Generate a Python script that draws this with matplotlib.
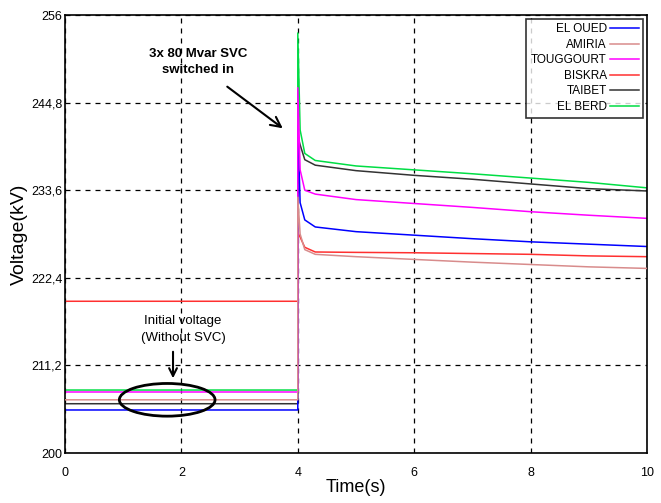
import matplotlib
matplotlib.use("Agg")
import matplotlib.pyplot as plt
from matplotlib.patches import Ellipse

# ---- data ----
time_s = [0, 4, 4, 4.04, 4.12, 4.3, 5, 6, 7, 8, 9, 10]
el_oued   = [205.5, 205.5, 241.9, 232.0, 229.8, 228.9, 228.3, 227.85, 227.4, 227.0, 226.7, 226.4]
amiria    = [206.8, 206.8, 232.7, 228.0, 226.0, 225.4, 225.1, 224.75, 224.4, 224.1, 223.8, 223.6]
touggourt = [207.8, 207.8, 246.7, 236.2, 233.6, 233.1, 232.4, 231.9, 231.4, 230.85, 230.4, 230.0]
biskra    = [219.4, 219.4, 228.2, 227.6, 226.3, 225.7, 225.65, 225.6, 225.5, 225.4, 225.2, 225.1]
taibet    = [206.3, 206.3, 240.5, 239.4, 237.5, 236.8, 236.1, 235.5, 235.0, 234.4, 233.8, 233.5]
el_berd   = [208.05, 208.05, 253.7, 241.3, 238.3, 237.4, 236.7, 236.2, 235.7, 235.15, 234.6, 233.9]

series_names = ["EL OUED", "AMIRIA", "TOUGGOURT", "BISKRA", "TAIBET", "EL BERD"]
series_vals = [el_oued, amiria, touggourt, biskra, taibet, el_berd]
colors = ["#0000ff", "#d88c8c", "#ff00ff", "#ff3030", "#333333", "#00dd44"]
zorders = [2.2, 2.6, 2.3, 2.1, 2.0, 2.05]

yticks = [200, 211.2, 222.4, 233.6, 244.8, 256]
ytick_labels = ["200", "211,2", "222,4", "233,6", "244,8", "256"]
xticks = [0, 2, 4, 6, 8, 10]
xtick_labels = ["0", "2", "4", "6", "8", "10"]

FONT = "Liberation Sans"

fig = plt.figure(figsize=(6.61, 5.03), dpi=100)
ax = fig.add_axes([65/661, 1-453/503, (647-65)/661, (453-15)/503])

for name, vals, c, z in zip(series_names, series_vals, colors, zorders):
    ax.plot(time_s, vals, color=c, lw=1.1, label=name, zorder=z)

ax.set_xlim(0, 10)
ax.set_ylim(200, 256)
ax.set_xticks(xticks)
ax.set_xticklabels(xtick_labels, fontfamily=FONT, fontsize=9)
ax.set_yticks(yticks)
ax.set_yticklabels(ytick_labels, fontfamily=FONT, fontsize=9)
ax.tick_params(axis="x", length=0, pad=10)
ax.tick_params(axis="y", length=0, pad=2)
ax.grid(True, color="black", linestyle=(0, (4, 4)), lw=0.9)
for s in ax.spines.values():
    s.set_linewidth(1.2)

ax.set_xlabel("Time(s)", fontsize=13, fontfamily=FONT, labelpad=0)
ax.set_ylabel("Voltage(kV)", fontsize=14, fontfamily=FONT, labelpad=2)

leg = ax.legend(loc="upper right", markerfirst=False, frameon=True,
                fancybox=False, handlelength=2.4, handletextpad=0.3,
                labelspacing=0.3, borderpad=0.4, borderaxespad=0.3,
                prop={"family": FONT, "size": 8.5})
leg.get_frame().set_edgecolor("black")
leg.get_frame().set_linewidth(1.2)

ax.text(2.285, 250.0, "3x 80 Mvar SVC\nswitched in", ha="center", va="center",
        fontsize=9.5, fontfamily=FONT, fontweight="bold", linespacing=1.4)
ax.annotate("", xy=(3.78, 241.3), xytext=(2.75, 247.05),
            arrowprops=dict(arrowstyle="->", lw=1.5, color="black", mutation_scale=18))

ax.text(2.03, 215.8, "Initial voltage\n(Without SVC)", ha="center", va="center",
        fontsize=9.5, fontfamily=FONT, linespacing=1.5)
ax.annotate("", xy=(1.856, 209.2), xytext=(1.856, 213.3),
            arrowprops=dict(arrowstyle="->", lw=1.5, color="black", mutation_scale=14))
ax.add_patch(Ellipse((1.756, 206.8), 1.644, 4.18, fill=False, lw=2, color="black", zorder=5))

fig.savefig("out.png", dpi=100)
